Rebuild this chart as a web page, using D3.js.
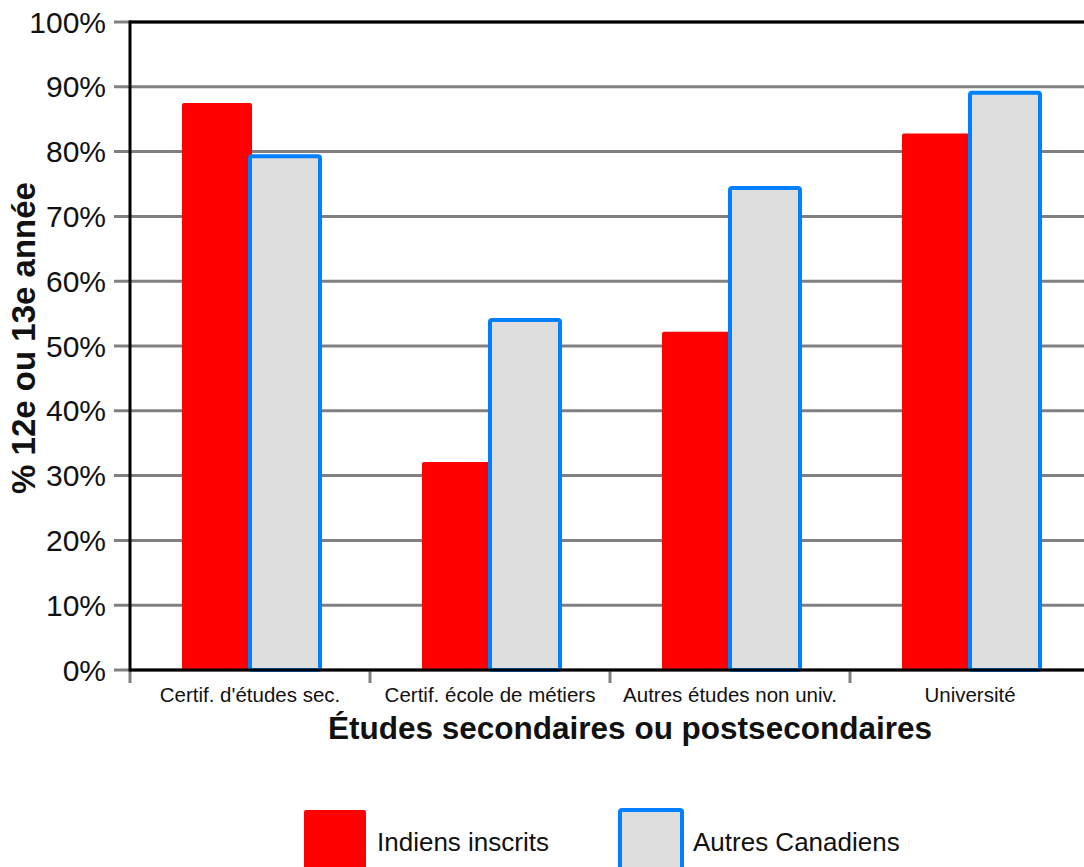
<!DOCTYPE html>
<html><head><meta charset="utf-8">
<script src="https://cdn.jsdelivr.net/npm/d3@7"></script>
<style>body{margin:0;background:#fff}svg{display:block;font-family:"Liberation Sans",Arial,sans-serif}</style>
</head><body>
<svg id="c" width="1084" height="867"></svg>
<script>
const categories = ["Certif. d'études sec.", "Certif. école de métiers", "Autres études non univ.", "Université"];
const seriesNames = ["Indiens inscrits", "Autres Canadiens"];
const indiens = [87.5, 32.1, 52.2, 82.8];
const autres = [79.3, 54.0, 74.4, 89.1];
const yTicks = [0,10,20,30,40,50,60,70,80,90,100];

const svg = d3.select("#c");
const L = 130, R = 1090, T = 22, B = 670;
const x = d3.scaleBand().domain(categories).range([L, R]);
const y = d3.scaleLinear().domain([0, 100]).range([B, T]);

// gridlines
svg.append("g").selectAll("line").data(yTicks).join("line")
  .attr("x1", L - 16).attr("x2", R).attr("y1", d => y(d)).attr("y2", d => y(d))
  .attr("stroke", "#808080").attr("stroke-width", 3);

// x ticks
const xt = d3.range(categories.length).map(i => L + i * x.bandwidth());
svg.append("g").selectAll("line").data(xt).join("line")
  .attr("x1", d => d).attr("x2", d => d).attr("y1", B).attr("y2", B + 13)
  .attr("stroke", "#808080").attr("stroke-width", 3);

// bars
const bw = 70;
const g = svg.append("g");
g.selectAll("rect.a").data(categories).join("rect").attr("class","a")
  .attr("x", d => x(d) + x.bandwidth()/2 - bw + 2).attr("width", bw)
  .attr("y", (d,i) => y(indiens[i])).attr("height", (d,i) => B - y(indiens[i]))
  .attr("rx", 2).attr("fill", "#ff0000");
g.selectAll("rect.b").data(categories).join("rect").attr("class","b")
  .attr("x", d => x(d) + x.bandwidth()/2).attr("width", bw)
  .attr("y", (d,i) => y(autres[i])).attr("height", (d,i) => B - y(autres[i]))
  .attr("rx", 2).attr("fill", "#dedede").attr("stroke", "#0080ff").attr("stroke-width", 4);

// axes frame
svg.append("line").attr("x1", L).attr("x2", L).attr("y1", T - 1.5).attr("y2", B + 1.5).attr("stroke", "#000").attr("stroke-width", 3);
svg.append("line").attr("x1", L).attr("x2", R).attr("y1", T).attr("y2", T).attr("stroke", "#000").attr("stroke-width", 3);
svg.append("line").attr("x1", L).attr("x2", R).attr("y1", B).attr("y2", B).attr("stroke", "#000").attr("stroke-width", 3);

// y tick labels
svg.append("g").selectAll("text").data(yTicks).join("text")
  .attr("x", 106).attr("y", d => y(d) + 10.5).attr("text-anchor", "end")
  .attr("font-size", 30).attr("fill", "#111").text(d => d + "%");

// x labels
svg.append("g").selectAll("text").data(categories).join("text")
  .attr("x", d => x(d) + x.bandwidth()/2).attr("y", 702).attr("text-anchor", "middle")
  .attr("font-size", 20.5).attr("fill", "#111").text(d => d);

// axis titles
svg.append("text").attr("x", 630).attr("y", 739).attr("text-anchor", "middle")
  .attr("font-size", 31.5).attr("font-weight", "bold").attr("fill", "#111")
  .text("Études secondaires ou postsecondaires");
svg.append("text").attr("transform", "translate(35,338) rotate(-90)").attr("text-anchor", "middle")
  .attr("font-size", 33).attr("font-weight", "bold").attr("fill", "#111")
  .text("% 12e ou 13e année");

// legend
const leg = [{x:304, fill:"#ff0000", stroke:null}, {x:620, fill:"#dedede", stroke:"#0080ff"}];
leg.forEach((l, i) => {
  const r = svg.append("rect").attr("x", l.x).attr("y", 810).attr("width", 62).attr("height", 60)
    .attr("rx", 2).attr("fill", l.fill);
  if (l.stroke) r.attr("stroke", l.stroke).attr("stroke-width", 4);
  svg.append("text").attr("x", l.x + 73).attr("y", 851).attr("font-size", 26)
    .attr("fill", "#111").text(seriesNames[i]);
});
</script>
</body></html>
